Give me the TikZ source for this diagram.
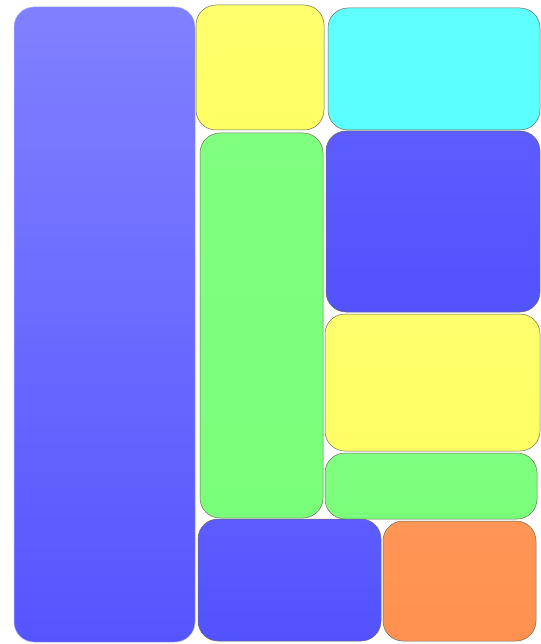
\documentclass[tikz,border=0pt]{standalone}
\definecolor{bluetop}{RGB}{128,128,255}
\definecolor{bluebot}{RGB}{85,85,255}
\definecolor{blueA}{RGB}{92,92,255}
\definecolor{blueB}{RGB}{82,82,255}
\definecolor{yelA}{RGB}{255,255,110}
\definecolor{yelB}{RGB}{255,255,100}
\definecolor{cyanA}{RGB}{96,255,255}
\definecolor{cyanB}{RGB}{90,255,255}
\definecolor{grnA}{RGB}{128,255,128}
\definecolor{grnB}{RGB}{122,255,122}
\definecolor{orA}{RGB}{255,150,85}
\definecolor{orB}{RGB}{255,145,80}
\definecolor{edge}{RGB}{110,110,90}
\begin{document}
\begin{tikzpicture}[x=1pt,y=-1pt,
  tile/.style={rounded corners=20pt, draw=edge, line width=0.5pt},
  bluetile/.style={tile, top color=blueA, bottom color=blueB},
  yeltile/.style={tile, top color=yelA, bottom color=yelB},
  cyantile/.style={tile, top color=cyanA, bottom color=cyanB},
  grntile/.style={tile, top color=grnA, bottom color=grnB},
  ortile/.style={tile, top color=orA, bottom color=orB}]
\useasboundingbox[fill=white] (0,0) rectangle (540,644);
% left tall blue
\path[tile, draw=bluebot!80!black!40, top color=bluetop, bottom color=bluebot] (14,7) rectangle (195,642);
% top middle yellow
\path[yeltile] (196,5) rectangle (324,130);
% top right cyan
\path[cyantile] (328,8) rectangle (540,130);
% middle green
\path[grntile] (200,133) rectangle (323,518);
% right blue
\path[bluetile] (326,131) rectangle (540,312);
% right yellow
\path[yeltile] (325,314) rectangle (540,451);
% right small green
\path[grntile] (325,453) rectangle (537,519);
% bottom blue
\path[bluetile] (198,519) rectangle (381,641);
% orange
\path[ortile] (383,521) rectangle (536,641);
\end{tikzpicture}
\end{document}
